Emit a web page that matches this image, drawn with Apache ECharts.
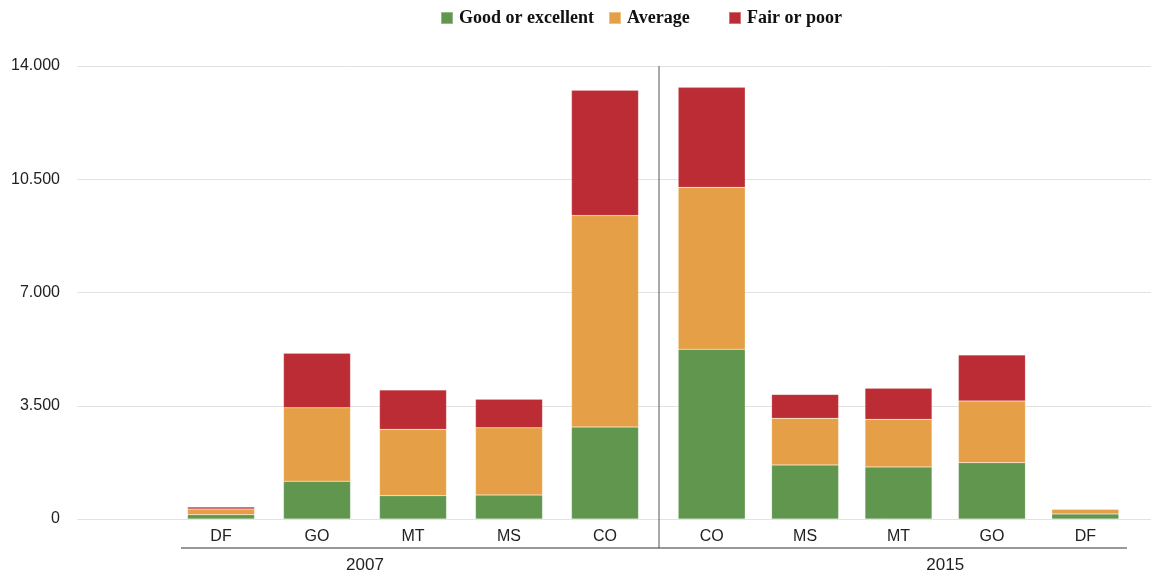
<!DOCTYPE html>
<html>
<head>
<meta charset="utf-8">
<script src="https://cdn.jsdelivr.net/npm/echarts@6/dist/echarts.min.js"></script>
<style>
  html, body { margin: 0; padding: 0; background: #fff; }
  #chart { width: 1151px; height: 573px; }
</style>
</head>
<body>
<div id="chart"></div>
<script>
// data
var years = ["2007", "2015"];
var cats2007 = ["DF", "GO", "MT", "MS", "CO"];
var cats2015 = ["CO", "MS", "MT", "GO", "DF"];
var seriesNames = ["Good or excellent", "Average", "Fair or poor"];
var good2007 = [130, 1170, 720, 740, 2840];
var avg2007 = [180, 2270, 2050, 2080, 6540];
var poor2007 = [60, 1680, 1220, 880, 3870];
var good2015 = [5250, 1670, 1610, 1740, 155];
var avg2015 = [5000, 1440, 1470, 1910, 145];
var poor2015 = [3090, 740, 960, 1420, 0];
var yTicks = [0, 3500, 7000, 10500, 14000];

var colors = ["#60964e", "#e5a047", "#bc2c34"];
var myChart = echarts.init(document.getElementById("chart"));

function fmt(v) {
  return String(v).replace(/\B(?=(\d{3})+(?!\d))/g, ".");
}

var yBase = {
  type: "value",
  min: yTicks[0],
  max: yTicks[yTicks.length - 1],
  interval: yTicks[1] - yTicks[0]
};

function hiddenY(gi) {
  return Object.assign({}, yBase, {
    gridIndex: gi,
    axisLabel: { show: false },
    axisLine: { show: false },
    axisTick: { show: false },
    splitLine: { show: false }
  });
}

function catX(gi, data) {
  return {
    type: "category",
    gridIndex: gi,
    data: data,
    axisLine: { show: false },
    axisTick: { show: false },
    axisLabel: {
      margin: 10,
      color: "#222",
      fontFamily: "Liberation Sans, Arial, sans-serif",
      fontSize: 16
    }
  };
}

var series = [];
var sets = [
  [good2007, avg2007, poor2007],
  [good2015, avg2015, poor2015]
];
sets.forEach(function (set, k) {
  set.forEach(function (vals, i) {
    series.push({
      name: seriesNames[i],
      type: "bar",
      stack: "s" + k,
      xAxisIndex: k + 1,
      yAxisIndex: k + 1,
      barWidth: 67,
      itemStyle: { color: colors[i], borderColor: "rgba(255,255,255,0.35)", borderWidth: 0.5 },
      data: vals
    });
  });
});

function legendAt(left, name) {
  return {
    left: left,
    top: 9,
    padding: 0,
    data: [name],
    icon: "rect",
    itemWidth: 12,
    itemHeight: 12,
    selectedMode: false,
    textStyle: {
      fontFamily: "Liberation Serif, Times New Roman, serif",
      fontWeight: "bold",
      fontSize: 18,
      color: "#111",
      padding: [0, 0, 0, 1]
    }
  };
}

var Option = {
  animation: false,
  color: colors,
  legend: [
    legendAt(440, seriesNames[0]),
    legendAt(608, seriesNames[1]),
    legendAt(728, seriesNames[2])
  ],
  grid: [
    { left: 77, right: 0, top: 66, bottom: 54 },
    { left: 173, width: 480, top: 66, bottom: 54 },
    { left: 665, width: 467, top: 66, bottom: 54 }
  ],
  xAxis: [
    { type: "value", gridIndex: 0, show: false },
    catX(1, cats2007),
    catX(2, cats2015)
  ],
  yAxis: [
    Object.assign({}, yBase, {
      gridIndex: 0,
      axisLine: { show: false },
      axisTick: { show: false },
      axisLabel: {
        margin: 17,
        color: "#222",
        fontFamily: "Liberation Sans, Arial, sans-serif",
        fontSize: 16,
        formatter: fmt
      },
      splitLine: { lineStyle: { color: "#e2e2e2", width: 1 } }
    }),
    hiddenY(1),
    hiddenY(2)
  ],
  series: series
};
myChart.setOption(Option);

// separator, group underlines and year labels placed from the axes
var midL = (myChart.convertToPixel({ xAxisIndex: 1 }, cats2007[1]) + myChart.convertToPixel({ xAxisIndex: 1 }, cats2007[2])) / 2;
var midR = (myChart.convertToPixel({ xAxisIndex: 2 }, cats2015[2]) + myChart.convertToPixel({ xAxisIndex: 2 }, cats2015[3])) / 2;
var yTop = myChart.convertToPixel({ yAxisIndex: 1 }, yTicks[yTicks.length - 1]);
var lineY = 548;
var sepX = 659;
var yearStyle = {
  fill: "#222",
  font: "17px Liberation Sans, Arial, sans-serif",
  textAlign: "center",
  textVerticalAlign: "middle"
};
myChart.setOption({
  graphic: [
    { type: "line", shape: { x1: sepX, y1: yTop, x2: sepX, y2: lineY }, style: { stroke: "#555", lineWidth: 1 } },
    { type: "line", shape: { x1: 181, y1: lineY, x2: sepX, y2: lineY }, style: { stroke: "#333", lineWidth: 1 } },
    { type: "line", shape: { x1: sepX, y1: lineY, x2: 1127, y2: lineY }, style: { stroke: "#333", lineWidth: 1 } },
    { type: "text", x: midL, y: 565, style: Object.assign({ text: years[0] }, yearStyle) },
    { type: "text", x: midR, y: 565, style: Object.assign({ text: years[1] }, yearStyle) }
  ]
});
</script>
</body>
</html>
